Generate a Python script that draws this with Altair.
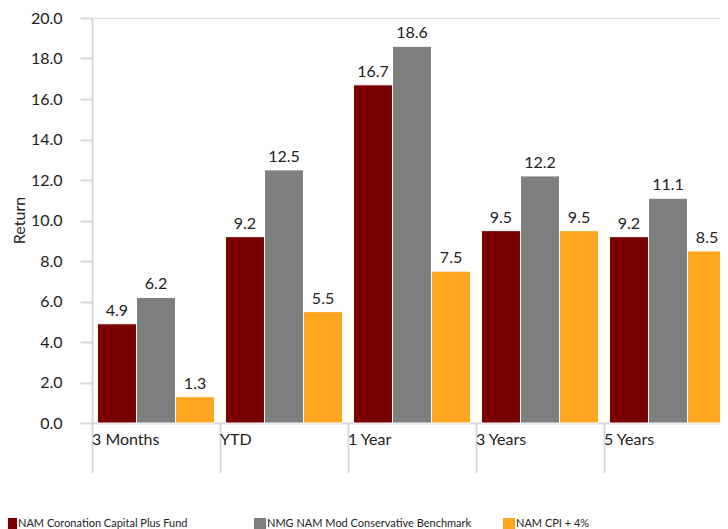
import altair as alt
import pandas as pd

categories = ["3 Months", "YTD", "1 Year", "3 Years", "5 Years"]
series_names = [
    "NAM Coronation Capital Plus Fund",
    "NMG NAM Mod Conservative Benchmark",
    "NAM CPI + 4%",
]
fund = [4.9, 9.2, 16.7, 9.5, 9.2]
benchmark = [6.2, 12.5, 18.6, 12.2, 11.1]
cpi = [1.3, 5.5, 7.5, 9.5, 8.5]
colors = ["#7A0000", "#7F7F7F", "#FFA621"]
y_ticks = [0, 2, 4, 6, 8, 10, 12, 14, 16, 18, 20]

rows = []
for i, c in enumerate(categories):
    for name, vals in zip(series_names, [fund, benchmark, cpi]):
        rows.append({"Period": c, "Series": name, "Return": vals[i]})
df = pd.DataFrame(rows)

FONT = "Lato"
GRID = "#D9D9D9"
TEXT = "#222222"

x_scale = alt.Scale(domain=categories, range=[0, 640], paddingInner=0, paddingOuter=0)

x_enc = alt.X(
    "Period:N",
    sort=categories,
    scale=x_scale,
    axis=alt.Axis(
        title=None,
        bandPosition=0,
        labelAlign="left",
        labelBaseline="middle",
        labelOffset=-64,
        labelPadding=-34,
        labelFontSize=16,
        labelColor=TEXT,
        labelFont=FONT,
        tickSize=50,
        tickColor=GRID,
        tickWidth=2,
        domainColor=GRID,
        domainWidth=2,
        labelAngle=0,
        grid=False,
    ),
)
xoff_enc = alt.XOffset(
    "Series:N",
    sort=series_names,
    scale=alt.Scale(paddingInner=0, paddingOuter=0.14),
)
y_enc = alt.Y(
    "Return:Q",
    scale=alt.Scale(domain=[0, 20], nice=False),
    axis=alt.Axis(
        title="Return",
        values=y_ticks,
        format=".1f",
        tickSize=12,
        tickColor=GRID,
        tickWidth=2,
        domainColor=GRID,
        domainWidth=2,
        labelPadding=18,
        labelFontSize=16,
        labelColor=TEXT,
        labelFont=FONT,
        grid=False,
        titleFont=FONT,
        titleFontSize=16,
        titleFontWeight="normal",
        titleColor=TEXT,
        titleX=-73,
        titleY=202,
        titleAngle=270,
        titleBaseline="middle",
        titleAlign="center",
    ),
)
color_enc = alt.Color(
    "Series:N",
    sort=series_names,
    scale=alt.Scale(domain=series_names, range=colors),
    legend=alt.Legend(
        title=None,
        orient="none",
        legendX=-87,
        legendY=500,
        direction="horizontal",
        columns=3,
        gridAlign="all",
        columnPadding=31,
        symbolType="square",
        symbolSize=144,
        symbolStrokeWidth=0,
        labelOffset=1,
        labelFontSize=11,
        labelFont=FONT,
        labelColor=TEXT,
        labelLimit=400,
    ),
)

bars = alt.Chart(df).mark_bar(stroke="white", strokeWidth=1).encode(
    x=x_enc, xOffset=xoff_enc, y=y_enc, color=color_enc
)
labels = alt.Chart(df).mark_text(
    baseline="bottom", dy=-5, fontSize=16, font=FONT, color=TEXT
).encode(
    x=alt.X("Period:N", sort=categories, scale=x_scale),
    xOffset=alt.XOffset("Series:N", sort=series_names),
    y="Return:Q",
    text=alt.Text("Return:Q", format=".1f"),
)

chart = (
    alt.layer(bars, labels)
    .properties(
        width=628,
        height=405,
        autosize=alt.AutoSizeParams(type="none"),
        padding={"left": 84, "top": 10, "right": 0, "bottom": 106},
    )
    .configure_view(stroke=None)
    .configure(font=FONT)
)

chart.save("out.html", embed_options={"renderer": "svg", "actions": False})
